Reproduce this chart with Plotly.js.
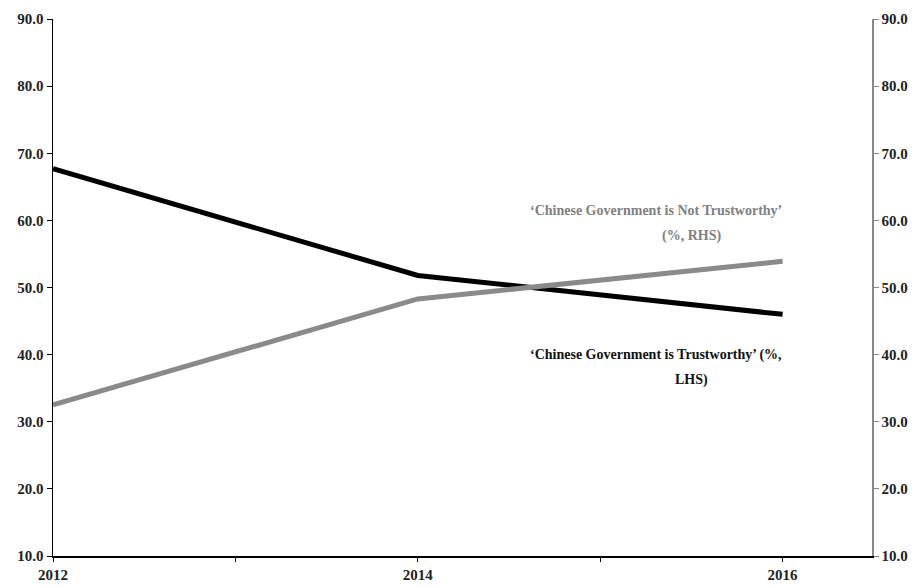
<!DOCTYPE html>
<html>
<head>
<meta charset="utf-8">
<script src="https://cdn.plot.ly/plotly-3.0.1.min.js"></script>
<style>html,body{margin:0;padding:0;background:#fff}#chart{width:922px;height:586px}</style>
</head>
<body>
<div id="chart"></div>
<script>
const years = [2012, 2014, 2016];
const trustworthyLHS = [67.7, 51.8, 46.0];
const notTrustworthyRHS = [32.5, 48.3, 53.9];
const yTicks = [10, 20, 30, 40, 50, 60, 70, 80, 90];
const yTickText = ['10.0', '20.0', '30.0', '40.0', '50.0', '60.0', '70.0', '80.0', '90.0'];
const xTicks = [2012, 2013, 2014, 2015, 2016];
const xTickText = ['2012', '', '2014', '', '2016'];

const font = 'Liberation Serif, Times New Roman, serif';
const tickFont = {family: font, size: 15, color: '#222', weight: 'bold'};

const data = [
  {x: years, y: trustworthyLHS, type: 'scatter', mode: 'lines', yaxis: 'y',
   line: {color: '#000000', width: 5}, hoverinfo: 'skip', showlegend: false},
  {x: years, y: notTrustworthyRHS, type: 'scatter', mode: 'lines', yaxis: 'y2',
   line: {color: '#8a8a8a', width: 5}, hoverinfo: 'skip', showlegend: false}
];

const layout = {
  width: 922, height: 586,
  margin: {l: 53, r: 50, t: 19, b: 30},
  paper_bgcolor: '#fff', plot_bgcolor: '#fff',
  showlegend: false,
  xaxis: {
    range: [2012, 2016.49], tickmode: 'array', tickvals: xTicks, ticktext: xTickText,
    showgrid: false, zeroline: false, showline: true, linecolor: '#000', linewidth: 1.5,
    ticks: 'outside', ticklen: 4, tickcolor: '#000', tickfont: tickFont
  },
  yaxis: {
    range: [10, 90], tickmode: 'array', tickvals: yTicks, ticktext: yTickText,
    showgrid: false, zeroline: false, showline: true, linecolor: '#000', linewidth: 1.5,
    ticks: 'outside', ticklen: 5, tickcolor: '#000', tickfont: tickFont
  },
  yaxis2: {
    range: [10, 90], overlaying: 'y', side: 'right', tickmode: 'array', tickvals: yTicks, ticktext: yTickText,
    showgrid: false, zeroline: false, showline: true, linecolor: '#888', linewidth: 1.5,
    ticks: 'outside', ticklen: 5, tickcolor: '#888', tickfont: tickFont
  },
  annotations: [
    {xref: 'paper', yref: 'paper', x: 0.736, y: 0.643, xanchor: 'center', yanchor: 'middle', showarrow: false,
     text: '‘Chinese Government is Not Trustworthy’', font: {family: font, size: 14, color: '#808080', weight: 'bold'}},
    {xref: 'paper', yref: 'paper', x: 0.779, y: 0.596, xanchor: 'center', yanchor: 'middle', showarrow: false,
     text: '(%, RHS)', font: {family: font, size: 14, color: '#808080', weight: 'bold'}},
    {xref: 'paper', yref: 'paper', x: 0.736, y: 0.375, xanchor: 'center', yanchor: 'middle', showarrow: false,
     text: '‘Chinese Government is Trustworthy’ (%,', font: {family: font, size: 14, color: '#111', weight: 'bold'}},
    {xref: 'paper', yref: 'paper', x: 0.779, y: 0.327, xanchor: 'center', yanchor: 'middle', showarrow: false,
     text: 'LHS)', font: {family: font, size: 14, color: '#111', weight: 'bold'}}
  ]
};

Plotly.newPlot('chart', data, layout, {staticPlot: true, displayModeBar: false});
</script>
</body>
</html>
